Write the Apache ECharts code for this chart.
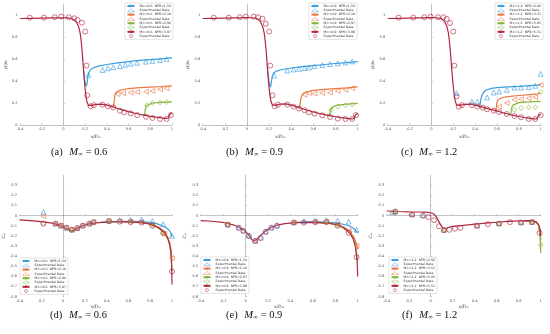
<!DOCTYPE html>
<html><head><meta charset="utf-8">
<script src="https://cdn.jsdelivr.net/npm/echarts@6/dist/echarts.min.js"></script>
<style>html,body{margin:0;padding:0;background:#fff}#c{width:550px;height:334px}</style>
</head><body><div id="c"></div>
<script>
// ---------- Legend labels ----------
const labelsA = ['M∞=0.6  NPR=1.54','M∞=0.6  NPR=2.10','M∞=0.6  NPR=2.96','M∞=0.6  NPR=3.97'];
const labelsB = ['M∞=0.9  NPR=1.54','M∞=0.9  NPR=2.10','M∞=0.9  NPR=2.97','M∞=0.9  NPR=3.98'];
const labelsC = ['M∞=1.2  NPR=2.92','M∞=1.2  NPR=3.51','M∞=1.2  NPR=5.05','M∞=1.2  NPR=5.51'];
const expLabel = 'Experimental Data';
const xTicks = [-0.4,-0.2,0,0.2,0.4,0.6,0.8,1];

// ---------- (a) M=0.6 internal wall pressure ----------
const aRedCfd = [[-0.4,0.968],[-0.3,0.97],[-0.2,0.972],[-0.1,0.974],[0,0.975],[0.05,0.973],[0.08,0.966],[0.1,0.955],[0.12,0.935],[0.14,0.895],[0.155,0.83],[0.165,0.75],[0.175,0.64],[0.185,0.5],[0.195,0.38],[0.205,0.28],[0.215,0.215],[0.23,0.178],[0.245,0.17],[0.265,0.178],[0.3,0.188],[0.35,0.19],[0.4,0.18],[0.45,0.166],[0.5,0.15],[0.55,0.135],[0.6,0.121],[0.65,0.109],[0.7,0.098],[0.75,0.088],[0.8,0.079],[0.85,0.071],[0.9,0.064],[0.94,0.06],[0.965,0.062],[0.98,0.095],[0.99,0.107],[1.0,0.112]];
const aBlueCfd = [[0.185,0.5],[0.2,0.38],[0.21,0.355],[0.218,0.38],[0.225,0.44],[0.235,0.48],[0.25,0.505],[0.28,0.522],[0.32,0.535],[0.4,0.55],[0.5,0.565],[0.6,0.577],[0.7,0.587],[0.8,0.595],[0.9,0.602],[0.95,0.605],[1.0,0.612]];
const aOrangeCfd = [[0.44,0.172],[0.462,0.163],[0.467,0.21],[0.473,0.27],[0.485,0.298],[0.51,0.312],[0.55,0.323],[0.6,0.331],[0.7,0.339],[0.8,0.345],[0.9,0.35],[1.0,0.356]];
const aGreenCfd = [[0.72,0.093],[0.747,0.086],[0.752,0.13],[0.762,0.175],[0.78,0.193],[0.82,0.2],[0.9,0.205],[1.0,0.21]];
const aBlueExp = [[0.23,0.456],[0.36,0.5],[0.41,0.515],[0.46,0.525],[0.52,0.535],[0.57,0.548],[0.62,0.557],[0.68,0.566],[0.76,0.575],[0.82,0.582],[0.89,0.59],[0.95,0.6]];
const aOrangeExp = [[0.5,0.28],[0.55,0.29],[0.62,0.295],[0.68,0.3],[0.76,0.303],[0.82,0.31],[0.89,0.324],[0.95,0.334]];
const aGreenExp = [[0.77,0.18],[0.82,0.2],[0.89,0.205],[0.95,0.207]];
const aRedExp = [[-0.31,0.976],[-0.18,0.976],[-0.08,0.98],[-0.02,0.985],[0.05,0.98],[0.1,0.97],[0.13,0.955],[0.17,0.93],[0.2,0.85],[0.213,0.54],[0.219,0.27],[0.25,0.17],[0.28,0.18],[0.36,0.185],[0.41,0.17],[0.46,0.16],[0.52,0.13],[0.56,0.115],[0.62,0.106],[0.68,0.09],[0.76,0.075],[0.82,0.064],[0.89,0.055],[0.95,0.055],[0.99,0.09]];

// ---------- (b) M=0.9 ----------
const bRedCfd = [[-0.4,0.968],[-0.3,0.97],[-0.2,0.972],[-0.1,0.974],[0,0.976],[0.05,0.975],[0.08,0.97],[0.1,0.96],[0.12,0.94],[0.14,0.9],[0.155,0.84],[0.165,0.76],[0.175,0.65],[0.185,0.51],[0.195,0.39],[0.205,0.29],[0.215,0.22],[0.23,0.18],[0.245,0.172],[0.265,0.18],[0.3,0.19],[0.35,0.192],[0.4,0.18],[0.45,0.165],[0.5,0.148],[0.55,0.132],[0.6,0.118],[0.65,0.106],[0.7,0.095],[0.75,0.085],[0.8,0.075],[0.85,0.067],[0.9,0.06],[0.94,0.056],[0.965,0.058],[0.98,0.09],[0.99,0.1],[1.0,0.105]];
const bBlueCfd = [[0.185,0.51],[0.2,0.38],[0.212,0.345],[0.22,0.39],[0.228,0.44],[0.24,0.47],[0.26,0.487],[0.3,0.5],[0.4,0.518],[0.5,0.53],[0.6,0.54],[0.7,0.55],[0.8,0.559],[0.9,0.567],[1.0,0.576]];
const bOrangeCfd = [[0.45,0.163],[0.475,0.155],[0.482,0.21],[0.49,0.255],[0.505,0.285],[0.53,0.3],[0.6,0.314],[0.7,0.324],[0.8,0.331],[0.9,0.338],[1.0,0.346]];
const bGreenCfd = [[0.72,0.09],[0.745,0.082],[0.75,0.115],[0.76,0.148],[0.78,0.168],[0.82,0.18],[0.9,0.19],[1.0,0.196]];
const bBlueExp = [[0.245,0.45],[0.365,0.495],[0.42,0.505],[0.47,0.51],[0.52,0.517],[0.56,0.522],[0.61,0.535],[0.68,0.545],[0.75,0.553],[0.82,0.56],[0.89,0.568],[0.95,0.578]];
const bOrangeExp = [[0.52,0.275],[0.56,0.29],[0.61,0.285],[0.68,0.29],[0.75,0.295],[0.82,0.31],[0.89,0.32],[0.95,0.334]];
const bGreenExp = [[0.76,0.137],[0.82,0.167],[0.89,0.18],[0.95,0.185]];
const bRedExp = [[-0.3,0.976],[-0.165,0.976],[-0.065,0.98],[-0.01,0.985],[0.06,0.985],[0.1,0.98],[0.14,0.966],[0.17,0.92],[0.2,0.85],[0.21,0.54],[0.23,0.27],[0.25,0.17],[0.28,0.185],[0.365,0.185],[0.42,0.167],[0.47,0.15],[0.52,0.134],[0.56,0.115],[0.61,0.103],[0.68,0.088],[0.75,0.073],[0.82,0.058],[0.89,0.055],[0.95,0.055],[0.985,0.09]];

// ---------- (c) M=1.2 ----------
const cRedCfd = [[-0.4,0.968],[-0.3,0.97],[-0.2,0.972],[-0.1,0.974],[0,0.976],[0.05,0.975],[0.08,0.97],[0.1,0.96],[0.12,0.94],[0.14,0.9],[0.155,0.84],[0.165,0.76],[0.175,0.65],[0.185,0.52],[0.195,0.4],[0.205,0.3],[0.215,0.23],[0.23,0.18],[0.245,0.17],[0.265,0.178],[0.3,0.187],[0.35,0.19],[0.4,0.18],[0.45,0.167],[0.5,0.153],[0.55,0.14],[0.6,0.127],[0.65,0.113],[0.7,0.1],[0.75,0.088],[0.8,0.077],[0.85,0.068],[0.9,0.06],[0.94,0.055],[0.965,0.056],[0.98,0.085],[0.99,0.095],[1.0,0.1]];
const cBlueCfd = [[0.42,0.175],[0.443,0.168],[0.45,0.22],[0.46,0.265],[0.48,0.3],[0.5,0.318],[0.55,0.333],[0.6,0.34],[0.7,0.347],[0.8,0.352],[0.9,0.358],[0.97,0.362],[1.0,0.37]];
const cOrangeCfd = [[0.57,0.133],[0.59,0.125],[0.597,0.19],[0.607,0.228],[0.625,0.243],[0.65,0.25],[0.7,0.258],[0.8,0.268],[0.9,0.277],[0.97,0.283],[1.0,0.29]];
const cGreenCfd = [[0.7,0.1],[0.725,0.093],[0.732,0.145],[0.742,0.178],[0.76,0.193],[0.8,0.203],[0.9,0.21],[1.0,0.215]];
const cBlueExp = [[0.23,0.29],[0.37,0.213],[0.42,0.213],[0.51,0.25],[0.57,0.295],[0.62,0.304],[0.69,0.32],[0.76,0.34],[0.82,0.34],[0.89,0.343],[0.95,0.356],[1.0,0.465]];
const cOrangeExp = [[0.62,0.167],[0.69,0.2],[0.76,0.23],[0.82,0.235],[0.89,0.243],[0.95,0.252],[1.0,0.365]];
const cGreenExp = [[0.76,0.137],[0.82,0.155],[0.89,0.16],[0.95,0.16],[1.0,0.3]];
const cRedExp = [[-0.3,0.976],[-0.165,0.976],[-0.065,0.98],[-0.007,0.985],[0.06,0.98],[0.11,0.98],[0.14,0.964],[0.17,0.927],[0.2,0.85],[0.21,0.54],[0.23,0.26],[0.25,0.167],[0.28,0.18],[0.37,0.18],[0.42,0.167],[0.47,0.158],[0.51,0.143],[0.57,0.13],[0.62,0.118],[0.69,0.1],[0.76,0.082],[0.82,0.07],[0.89,0.055],[0.95,0.055],[1.0,0.09]];

// ---------- (d) M=0.6 afterbody pressure coefficient ----------
const dRedCfd = [[-0.4,-0.043],[-0.3,-0.05],[-0.2,-0.06],[-0.1,-0.075],[-0.03,-0.095],[0.02,-0.12],[0.05,-0.14],[0.075,-0.15],[0.1,-0.145],[0.13,-0.127],[0.18,-0.1],[0.25,-0.08],[0.35,-0.068],[0.45,-0.063],[0.55,-0.062],[0.65,-0.065],[0.72,-0.07],[0.78,-0.08],[0.84,-0.1],[0.89,-0.13],[0.93,-0.17],[0.96,-0.22],[0.98,-0.29],[0.99,-0.37],[0.997,-0.5],[1.0,-0.68]];
const dBlueCfd = [[0.35,-0.066],[0.45,-0.06],[0.55,-0.057],[0.65,-0.058],[0.72,-0.06],[0.8,-0.068],[0.86,-0.08],[0.9,-0.095],[0.94,-0.115],[0.97,-0.14],[0.99,-0.17],[1.0,-0.21]];
const dOrangeCfd = [[0.55,-0.061],[0.65,-0.064],[0.75,-0.072],[0.82,-0.088],[0.88,-0.115],[0.93,-0.16],[0.96,-0.21],[0.98,-0.27],[0.995,-0.36],[1.0,-0.45]];
const dGreenCfd = [[0.6,-0.064],[0.7,-0.068],[0.78,-0.08],[0.85,-0.105],[0.9,-0.14],[0.94,-0.19],[0.97,-0.25],[0.99,-0.35],[1.0,-0.55]];
const dBlueExp = [[-0.18,0.037],[-0.07,-0.078],[-0.02,-0.098],[0.03,-0.118],[0.08,-0.138],[0.13,-0.122],[0.18,-0.098],[0.24,-0.078],[0.28,-0.063],[0.42,-0.05],[0.52,-0.045],[0.62,-0.042],[0.72,-0.037],[0.82,-0.055],[0.92,-0.085],[1.0,-0.2]];
const dOrangeExp = [[-0.18,-0.007],[-0.07,-0.08],[-0.02,-0.1],[0.03,-0.12],[0.08,-0.14],[0.13,-0.125],[0.18,-0.1],[0.24,-0.08],[0.28,-0.065],[0.42,-0.055],[0.52,-0.055],[0.62,-0.058],[0.72,-0.062],[0.82,-0.09],[0.93,-0.18],[1.0,-0.42]];
const dGreenExp = [[-0.18,-0.075],[0.08,-0.14],[0.42,-0.056],[0.62,-0.062],[0.82,-0.097],[0.92,-0.17]];
const dRedExp = [[-0.18,-0.08],[-0.07,-0.08],[-0.02,-0.1],[0.03,-0.12],[0.08,-0.14],[0.13,-0.125],[0.18,-0.1],[0.24,-0.08],[0.28,-0.065],[0.42,-0.055],[0.52,-0.06],[0.62,-0.065],[0.72,-0.07],[0.82,-0.1],[0.92,-0.175],[1.0,-0.55]];

// ---------- (e) M=0.9 ----------
const eRedCfd = [[-0.4,-0.05],[-0.3,-0.056],[-0.2,-0.068],[-0.1,-0.095],[-0.05,-0.12],[0,-0.155],[0.03,-0.195],[0.055,-0.235],[0.075,-0.25],[0.1,-0.235],[0.13,-0.2],[0.17,-0.16],[0.22,-0.12],[0.28,-0.095],[0.35,-0.08],[0.45,-0.07],[0.55,-0.067],[0.65,-0.069],[0.75,-0.077],[0.82,-0.093],[0.88,-0.125],[0.93,-0.175],[0.96,-0.23],[0.98,-0.31],[0.995,-0.45],[1.0,-0.6]];
const eBlueCfd = [[0.45,-0.068],[0.55,-0.062],[0.65,-0.061],[0.75,-0.066],[0.82,-0.075],[0.88,-0.088],[0.93,-0.105],[0.97,-0.13],[1.0,-0.17]];
const eOrangeCfd = [[0.55,-0.066],[0.65,-0.068],[0.75,-0.074],[0.82,-0.088],[0.88,-0.115],[0.93,-0.155],[0.97,-0.22],[0.99,-0.28],[1.0,-0.33]];
const eGreenCfd = [[0.6,-0.068],[0.7,-0.072],[0.78,-0.082],[0.85,-0.105],[0.91,-0.15],[0.95,-0.2],[0.98,-0.28],[1.0,-0.45]];
const eBlueExp = [[-0.16,-0.088],[-0.06,-0.118],[-0.02,-0.148],[0.03,-0.198],[0.085,-0.248],[0.135,-0.218],[0.18,-0.158],[0.23,-0.118],[0.28,-0.098],[0.43,-0.065],[0.52,-0.055],[0.62,-0.05],[0.72,-0.045],[0.82,-0.05],[0.92,-0.06],[0.99,-0.14]];
const eOrangeExp = [[-0.16,-0.09],[0.085,-0.25],[0.43,-0.068],[0.62,-0.062],[0.72,-0.06],[0.82,-0.085],[0.92,-0.15],[0.99,-0.3]];
const eGreenExp = [[-0.16,-0.09],[0.43,-0.07],[0.72,-0.064],[0.82,-0.095]];
const eRedExp = [[-0.16,-0.09],[-0.06,-0.12],[-0.02,-0.15],[0.03,-0.2],[0.085,-0.25],[0.135,-0.22],[0.18,-0.16],[0.23,-0.12],[0.28,-0.1],[0.43,-0.07],[0.52,-0.07],[0.62,-0.065],[0.72,-0.065],[0.82,-0.1],[0.92,-0.17],[0.99,-0.41]];

// ---------- (f) M=1.2 ----------
const fRedCfd = [[-0.4,0.045],[-0.3,0.04],[-0.2,0.037],[-0.1,0.035],[-0.05,0.033],[0,0.028],[0.03,0.015],[0.05,-0.01],[0.07,-0.05],[0.09,-0.09],[0.11,-0.12],[0.13,-0.13],[0.16,-0.118],[0.2,-0.107],[0.3,-0.096],[0.4,-0.085],[0.5,-0.075],[0.6,-0.066],[0.7,-0.058],[0.8,-0.052],[0.88,-0.05],[0.93,-0.053],[0.96,-0.065],[0.98,-0.09],[0.99,-0.12],[1.0,-0.2]];
const fBlueCfd = [[0.85,-0.05],[0.92,-0.05],[0.96,-0.062],[0.98,-0.09],[0.995,-0.15],[1.0,-0.24]];
const fOrangeCfd = [[0.85,-0.051],[0.92,-0.052],[0.96,-0.064],[0.98,-0.092],[0.995,-0.16],[1.0,-0.3]];
const fGreenCfd = [[0.85,-0.051],[0.92,-0.052],[0.96,-0.066],[0.98,-0.095],[0.995,-0.2],[1.0,-0.37]];
const fBlueExp = [[-0.35,0.035],[-0.32,0.04],[-0.17,0.012],[-0.07,0.002],[0.12,-0.14],[0.42,-0.098],[0.62,-0.077],[0.82,-0.066],[0.92,-0.062]];
const fOrangeExp = [[-0.34,0.033],[-0.17,0.01],[0.12,-0.143],[0.42,-0.1],[0.62,-0.079],[0.82,-0.068],[0.92,-0.064]];
const fGreenExp = [[-0.33,0.036],[0.12,-0.142],[0.62,-0.078],[0.92,-0.063],[1.0,-0.29]];
const fRedExp = [[-0.32,0.04],[-0.17,0.01],[-0.07,0.0],[-0.02,-0.015],[0.03,-0.045],[0.075,-0.105],[0.12,-0.145],[0.17,-0.14],[0.22,-0.13],[0.27,-0.12],[0.42,-0.1],[0.52,-0.085],[0.62,-0.08],[0.72,-0.065],[0.82,-0.07],[0.92,-0.065],[0.99,-0.17]];

// ---------- styling ----------
const COLORS = ['#3a9de0','#ea7843','#84b63c','#b0283f'];
const SYMS = ['triangle','triangle','diamond','circle'];
const ROTS = [0,90,0,0];
const ZW = '\u200b';

const panels = [
  {cfd:[aBlueCfd,aOrangeCfd,aGreenCfd,aRedCfd], exp:[aBlueExp,aOrangeExp,aGreenExp,aRedExp], labels:labelsA, grid:{left:20,top:4,width:152,height:121}, top:true, legend:{left:125,top:3}, cap:['(a)','0.6'], capX:85},
  {cfd:[bBlueCfd,bOrangeCfd,bGreenCfd,bRedCfd], exp:[bBlueExp,bOrangeExp,bGreenExp,bRedExp], labels:labelsB, grid:{left:202.7,top:4,width:155,height:121}, top:true, legend:{left:309,top:3}, cap:['(b)','0.9'], capX:260},
  {cfd:[cBlueCfd,cOrangeCfd,cGreenCfd,cRedCfd], exp:[cBlueExp,cOrangeExp,cGreenExp,cRedExp], labels:labelsC, grid:{left:387.7,top:4,width:153,height:121}, top:true, legend:{left:495,top:3}, cap:['(c)','1.2'], capX:435},
  {cfd:[dBlueCfd,dOrangeCfd,dGreenCfd,dRedCfd], exp:[dBlueExp,dOrangeExp,dGreenExp,dRedExp], labels:labelsA, grid:{left:16.7,top:175,width:155.3,height:121.7}, top:false, legend:{left:20,top:258}, cap:['(d)','0.6'], capX:84},
  {cfd:[eBlueCfd,eOrangeCfd,eGreenCfd,eRedCfd], exp:[eBlueExp,eOrangeExp,eGreenExp,eRedExp], labels:labelsB, grid:{left:200.7,top:175,width:157,height:121.7}, top:false, legend:{left:201,top:257}, cap:['(e)','0.9'], capX:260},
  {cfd:[fBlueCfd,fOrangeCfd,fGreenCfd,fRedCfd], exp:[fBlueExp,fOrangeExp,fGreenExp,fRedExp], labels:labelsC, grid:{left:386.7,top:175,width:154,height:121.7}, top:false, legend:{left:389,top:257}, cap:['(f)','1.2'], capX:436}
];

const grids=[], xAxes=[], yAxes=[], series=[], legends=[], graphics=[];
let k = 0;
const axisCommon = {
  axisLine:{lineStyle:{color:'#9a9a9a',width:0.6}},
  axisTick:{inside:true,length:1.5,lineStyle:{color:'#9a9a9a',width:0.5}},
  axisLabel:{fontSize:3.6,color:'#555',margin:2.5,fontFamily:'DejaVu Sans'},
  splitLine:{show:false}
};
panels.forEach((p,i)=>{
  grids.push(Object.assign({}, p.grid));
  xAxes.push(Object.assign({type:'value',gridIndex:i,min:-0.4,max:1,interval:0.2,
    name:'x/Dₘ',nameLocation:'middle',nameGap:p.top?9:7,
    nameTextStyle:{fontSize:4.5,fontStyle:'italic',color:'#333',fontFamily:'DejaVu Serif'}}, axisCommon));
  const y = p.top ? {min:0,max:1.1,interval:0.2,name:'p/p₀'} : {min:-0.8,max:0.4,interval:0.1,name:'Cₚ'};
  yAxes.push(Object.assign({type:'value',gridIndex:i,min:y.min,max:y.max,interval:y.interval,
    name:y.name,nameLocation:'middle',nameGap:p.top?11:12,nameRotate:90,
    nameTextStyle:{fontSize:4.5,fontStyle:'italic',color:'#333',fontFamily:'DejaVu Serif'}},
    axisCommon, {axisLabel:Object.assign({},axisCommon.axisLabel,{showMaxLabel:false})}));
  const items=[];
  for(let j=0;j<4;j++){
    const ln = p.labels[j] + ZW.repeat(k++);
    const sn = expLabel + ZW.repeat(k++);
    items.push({name:ln});
    items.push({name:sn, itemStyle:{color:'rgba(255,255,255,0)',borderColor:COLORS[j],borderWidth:0.6}});
    series.push({type:'line',name:ln,xAxisIndex:i,yAxisIndex:i,data:p.cfd[j],symbol:'none',showSymbol:false,
      z:2,lineStyle:{color:COLORS[j],width:1.2},itemStyle:{color:COLORS[j]},animation:false});
    series.push({type:'scatter',name:sn,xAxisIndex:i,yAxisIndex:i,data:p.exp[j],symbol:SYMS[j],symbolRotate:ROTS[j],
      symbolSize:j===3?5:4.8,z:3,itemStyle:{color:'rgba(255,255,255,0)',borderColor:COLORS[j],borderWidth:0.8},animation:false});
  }
  legends.push({data:items,orient:'vertical',left:p.legend.left,top:p.legend.top,itemGap:1,itemWidth:7,itemHeight:3,
    padding:[1.5,2,1.5,1.5],backgroundColor:'#fff',borderColor:'#c8c8c8',borderWidth:0.5,
    textStyle:{fontSize:3.2,color:'#333',fontFamily:'DejaVu Sans'},
    formatter:n=>n.replace(/\u200b/g,''),selectedMode:false});
  graphics.push({type:'text',left:p.capX-34,top:p.top?146:309,
    style:{text:'{t|'+p.cap[0]+'}  {m|M}{s|∞}{t| = '+p.cap[1]+'}',
      rich:{t:{fontFamily:'Liberation Serif',fontSize:10.5,fill:'#111',lineHeight:12},
            m:{fontFamily:'Liberation Serif',fontStyle:'italic',fontSize:10.5,fill:'#111',lineHeight:12},
            s:{fontFamily:'DejaVu Serif',fontSize:6,fill:'#111',padding:[5,0,0,0],lineHeight:12}}}});
});

const chart = echarts.init(document.getElementById('c'),null,{renderer:'canvas'});
chart.setOption({animation:false,backgroundColor:'#fff',grid:grids,xAxis:xAxes,yAxis:yAxes,series:series,legend:legends,graphic:graphics});
</script></body></html>
